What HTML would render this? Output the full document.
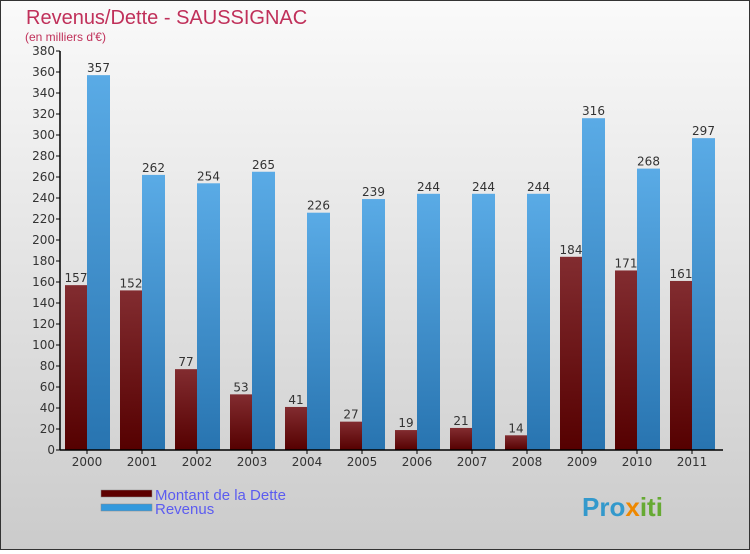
<!DOCTYPE html>
<html><head><meta charset="utf-8"><style>
html,body{margin:0;padding:0;}
body{width:750px;height:550px;overflow:hidden;font-family:"DejaVu Sans","Liberation Sans",sans-serif;}
</style></head><body>
<svg id="chart" width="750" height="550" xmlns="http://www.w3.org/2000/svg">
<defs>
<linearGradient id="bg" x1="0" y1="0" x2="0" y2="1"><stop offset="0" stop-color="#fafafa"/><stop offset="1" stop-color="#cbcbcb"/></linearGradient>
<linearGradient id="gd" x1="0" y1="0" x2="0" y2="1"><stop offset="0" stop-color="#822c30"/><stop offset="1" stop-color="#550000"/></linearGradient>
<linearGradient id="gr" x1="0" y1="0" x2="0" y2="1"><stop offset="0" stop-color="#5aabe6"/><stop offset="1" stop-color="#2874b0"/></linearGradient>
</defs>
<rect x="0.5" y="0.5" width="749" height="549" fill="url(#bg)" stroke="#333" stroke-width="1"/>
<text x="26" y="24" font-size="20" fill="#c0305a" font-family="Liberation Sans, sans-serif">Revenus/Dette - SAUSSIGNAC</text>
<text x="25" y="41" font-size="12" fill="#c0305a" font-family="Liberation Sans, sans-serif">(en milliers d'€)</text>
<g id="grid"></g>
<g id="bars"></g>
<g id="axes"></g>
<rect x="101" y="490" width="51" height="7" fill="#5e0000" stroke="#888" stroke-width="0.5"/>
<text x="155" y="500" font-size="15" fill="#5c5cf0" font-family="Liberation Sans, sans-serif">Montant de la Dette</text>
<rect x="101" y="504" width="51" height="7" fill="#3399dd" stroke="#888" stroke-width="0.5"/>
<text x="155" y="514" font-size="15" fill="#5c5cf0" font-family="Liberation Sans, sans-serif">Revenus</text>
<text x="582" y="516" font-size="26" font-weight="bold" fill="#3399cc" font-family="Liberation Sans, sans-serif">Pro<tspan fill="#ee8800">x</tspan><tspan fill="#66aa33">iti</tspan></text>
</svg>
<script>
const years=["2000","2001","2002","2003","2004","2005","2006","2007","2008","2009","2010","2011"];
const debt=[157,152,77,53,41,27,19,21,14,184,171,161];
const revenue=[357,262,254,265,226,239,244,244,244,316,268,297];
const yTicks=[0,20,40,60,80,100,120,140,160,180,200,220,240,260,280,300,320,340,360,380];
const NS="http://www.w3.org/2000/svg";
const x0=60,groupW=55,yBase=450,yTop=51,yMax=380;
const y=v=>yBase-(v/yMax)*(yBase-yTop);
const gx=i=>x0+5+i*groupW;
function mk(tag,attrs,parent){const e=document.createElementNS(NS,tag);for(const k in attrs)e.setAttribute(k,attrs[k]);parent.appendChild(e);return e;}
const bars=document.getElementById('bars'),axes=document.getElementById('axes');
years.forEach((yr,i)=>{
  const bx=gx(i);
  const d=mk('rect',{x:bx,y:y(debt[i]),width:22,height:yBase-y(debt[i]),fill:'url(#gd)'},bars);
  
  
  const r=mk('rect',{x:bx+22,y:y(revenue[i]),width:23,height:yBase-y(revenue[i]),fill:'url(#gr)'},bars);
  
  
  const dl=mk('text',{x:bx+11,y:y(debt[i])-3,'font-size':12,'text-anchor':'middle',fill:'#333'},bars);
  dl.textContent=debt[i];
  
  
  const rl=mk('text',{x:bx+33.5,y:y(revenue[i])-3,'font-size':12,'text-anchor':'middle',fill:'#333'},bars);
  rl.textContent=revenue[i];
  
  
  const xl=mk('text',{x:bx+22,y:466,'font-size':12,'text-anchor':'middle',fill:'#333'},axes);
  xl.textContent=yr;
  
  
  mk('line',{x1:bx+22,x2:bx+22,y1:yBase,y2:yBase+4,stroke:'#000'},axes);
});
const ya=mk('line',{x1:x0,x2:x0,y1:yTop,y2:yBase,stroke:'#000','stroke-width':1.5},axes);


const xa=mk('line',{x1:x0,x2:723,y1:yBase,y2:yBase,stroke:'#000','stroke-width':1.5},axes);


yTicks.forEach(t=>{
  mk('line',{x1:x0-4,x2:x0,y1:y(t),y2:y(t),stroke:'#000'},axes);
  const tl=mk('text',{x:x0-5,y:y(t)+4,'font-size':12,'text-anchor':'end',fill:'#333'},axes);
  tl.textContent=t;
  
  
});
</script>
</body></html>
